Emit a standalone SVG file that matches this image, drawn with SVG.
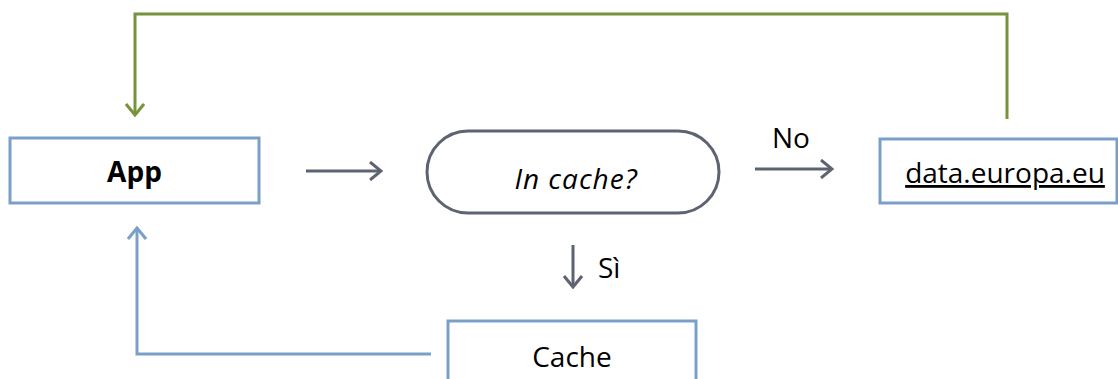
<svg xmlns="http://www.w3.org/2000/svg" width="1118" height="379" viewBox="0 0 1118 379">
  <style>
    .box { fill: #ffffff; stroke: #7aa0c9; stroke-width: 3; }
    .pill { fill: #ffffff; stroke: #5d6370; stroke-width: 3; }
    .t { font-family: "Open Sans", "Noto Sans", sans-serif; font-size: 28px; fill: #000000; }
    .gray { fill: none; stroke: #5d6370; stroke-width: 3; }
    .blue { fill: none; stroke: #7aa0c9; stroke-width: 3; }
    .green { fill: none; stroke: #77933c; stroke-width: 3; }
  </style>
  <defs>
    <marker id="ag" viewBox="0 0 14 20" refX="12" refY="10" markerWidth="14" markerHeight="20" markerUnits="userSpaceOnUse" orient="auto">
      <path d="M1,1 L12,10 L1,19" fill="none" stroke="#5d6370" stroke-width="3"/>
    </marker>
    <marker id="ab" viewBox="0 0 14 20" refX="12" refY="10" markerWidth="14" markerHeight="20" markerUnits="userSpaceOnUse" orient="auto">
      <path d="M1,1 L12,10 L1,19" fill="none" stroke="#7aa0c9" stroke-width="3"/>
    </marker>
    <marker id="agr" viewBox="0 0 14 20" refX="12" refY="10" markerWidth="14" markerHeight="20" markerUnits="userSpaceOnUse" orient="auto">
      <path d="M1,1 L12,10 L1,19" fill="none" stroke="#77933c" stroke-width="3"/>
    </marker>
  </defs>

  <g id="connectors">
    <path class="green" d="M1007,119 V14 H135 V115" marker-end="url(#agr)"/>
    <path class="gray" d="M306,171 H381" marker-end="url(#ag)"/>
    <path class="gray" d="M755,169 H832" marker-end="url(#ag)"/>
    <path class="gray" d="M573,245 V287" marker-end="url(#ag)"/>
    <path class="blue" d="M431,354 H137 V228" marker-end="url(#ab)"/>
    <text class="t" x="772" y="148">No</text>
    <text class="t" x="598" y="278">Sì</text>
  </g>

  <g id="app">
    <rect class="box" x="10" y="138" width="249" height="65"/>
    <text class="t" x="134.5" y="182" text-anchor="middle" font-weight="bold">App</text>
  </g>

  <g id="incache">
    <rect class="pill" x="427" y="131" width="292" height="82" rx="41" ry="41"/>
    <text class="t" x="576" y="189" text-anchor="middle" font-style="italic" letter-spacing="1">In cache?</text>
  </g>

  <g id="data">
    <rect class="box" x="880" y="139" width="237" height="64"/>
    <text class="t" x="1005" y="183" text-anchor="middle" text-decoration="underline">data.europa.eu</text>
  </g>

  <g id="cache">
    <rect class="box" x="448" y="321" width="248" height="80"/>
    <text class="t" x="572" y="367" text-anchor="middle">Cache</text>
  </g>
</svg>
